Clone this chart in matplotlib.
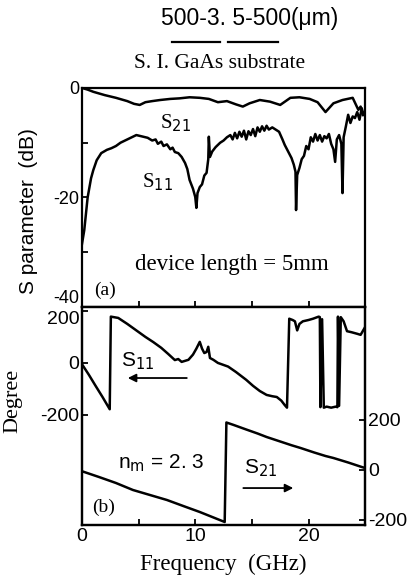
import matplotlib
matplotlib.use("Agg")
import matplotlib.pyplot as plt
from matplotlib.lines import Line2D

# ---------------------------------------------------------------- data
# (a) magnitude, dB
s11_db_f = [0, 0.2, 0.5, 0.8, 1.0, 1.3, 1.7, 2.2, 2.6, 3.0, 3.4, 4.0, 4.5, 4.8,
            5.2, 5.8, 6.2, 6.5, 6.7, 7.0, 7.2, 7.5, 7.8, 8.0, 8.2, 8.5, 8.8,
            9.1, 9.3, 9.5, 9.8, 10.0, 10.1, 10.2, 10.4, 10.6, 10.8, 11.0,
            11.15, 11.2, 11.3, 11.5, 11.8, 12.2, 12.5, 12.8, 13.1, 13.3, 13.5,
            13.7, 13.9, 14.1, 14.3, 14.5, 14.7, 14.9, 15.1, 15.3, 15.5, 15.7,
            15.9, 16.1, 16.3, 16.5, 16.8, 17.1, 17.4, 17.7, 17.9, 18.2, 18.5,
            18.7, 18.85, 18.9, 19.0, 19.2, 19.4, 19.6, 19.8, 20.0, 20.2, 20.4,
            20.6, 20.8, 21.0, 21.2, 21.4, 21.6, 21.8, 22.0, 22.2, 22.35, 22.5,
            22.7, 22.9, 23.0, 23.1, 23.3, 23.5, 23.7, 23.9, 24.1, 24.3, 24.5,
            24.7, 24.85, 25.0]
s11_db = [-28.5, -26.0, -20.0, -16.5, -15.0, -13.2, -11.9, -11.3, -11.0, -10.6,
          -10.0, -9.4, -8.9, -8.6, -8.8, -9.1, -9.6, -9.4, -10.2, -9.8, -10.6,
          -10.3, -11.2, -10.9, -11.7, -11.9, -12.6, -13.7, -14.8, -16.8, -18.4,
          -19.9, -21.9, -19.2, -18.1, -17.6, -16.0, -15.5, -13.0, -8.9, -12.6,
          -11.6, -10.8, -10.0, -9.6, -9.0, -8.6, -9.4, -8.2, -9.2, -8.0, -8.9,
          -7.8, -9.4, -7.9, -8.6, -7.5, -8.8, -7.2, -8.0, -7.0, -7.8, -6.9,
          -7.6, -7.2, -7.6, -8.0, -9.4, -10.4, -11.6, -12.8, -14.0, -15.3,
          -22.3, -15.9, -14.6, -13.0, -12.4, -10.6, -11.2, -9.0, -9.8, -8.4,
          -9.6, -8.6, -9.8, -8.8, -9.2, -8.4, -10.2, -11.2, -13.5, -9.4, -8.6,
          -10.2, -19.2, -9.0, -7.0, -4.9, -6.4, -5.2, -5.5, -4.4, -5.8, -3.7,
          -4.9, -4.4]

s21_db_f = [0, 0.5, 1.0, 2.0, 3.0, 4.0, 4.6, 5.1, 5.6, 6.2, 6.9, 7.8, 8.6, 9.5,
            10.4, 11.2, 12.0, 12.8, 13.6, 14.2, 14.8, 15.7, 16.6, 17.5, 18.4,
            19.2, 20.1, 20.8, 21.5, 22.2, 23.0, 23.9, 24.4, 24.6, 24.8, 25.0]
s21_db = [0.0, -0.3, -0.7, -1.3, -1.8, -2.4, -2.9, -3.1, -2.6, -2.4, -2.2, -2.0,
          -1.9, -1.7, -1.8, -2.0, -2.6, -2.4, -3.0, -3.4, -2.8, -2.2, -2.5,
          -3.1, -1.8, -1.7, -2.0, -2.6, -4.4, -2.8, -2.2, -1.8, -4.0, -3.4,
          -5.0, -4.2]

# (b) phase, degree
s11_ph_f = [0, 0.6, 1.2, 1.8, 2.45, 2.55, 3.2, 4.0, 4.8, 5.6, 6.3, 7.0, 7.6,
            8.2, 8.5, 8.8, 9.1, 9.4, 9.8, 10.1, 10.4, 10.6, 10.8, 11.0, 11.15,
            11.3, 11.6, 12.0, 12.9, 13.6, 14.5, 15.1, 15.7, 16.3, 16.8, 17.2,
            17.6, 17.9, 18.1, 18.3, 18.6, 18.8, 19.0, 19.2, 19.5, 20.0, 20.4,
            20.9, 21.0, 21.05, 21.2, 21.35, 21.6, 22.0, 22.4, 22.55, 22.6,
            22.7, 22.85, 23.1, 23.4, 23.8, 24.3, 24.6, 25.0]
s11_ph = [-5, -45, -88, -130, -178, 178, 173, 150, 125, 100, 80, 58, 35, 11, 15,
          4, 8, 12, 32, 55, 81, 55, 38, 42, 62, 19, 12, 0, -14, -35, -65, -88,
          -108, -123, -128, -131, -145, -162, -172, 170, 165, 160, 125, 150,
          160, 165, 170, 178, 176, -170, 168, -172, -168, -172, -168, -170,
          178, -165, 176, 160, 122, 118, 112, 108, 138]

s21_ph_f = [0, 1.5, 3.0, 4.5, 6.0, 7.5, 9.0, 10.4, 11.5, 12.6, 12.75, 13.4,
            14.5, 15.5, 16.3, 17.5, 18.5, 19.3, 20.5, 21.5, 22.2, 23.5, 24.7,
            25.0]
s21_ph = [-5, -28, -52, -80, -100, -120, -145, -168, -188, -208, 190, 180, 162,
          146, 132, 114, 99, 88, 70, 56, 48, 30, 12, 8]

tick_font = "Liberation Sans"
serif = "Liberation Serif"

fig = plt.figure(figsize=(4.14, 5.81), dpi=100)
ax1 = fig.add_axes([0.198, 0.4716, 0.684, 0.377])
ax2 = fig.add_axes([0.198, 0.0964, 0.684, 0.3752])
ax3 = ax2.twinx()

for ax in (ax1, ax2, ax3):
    for s in ax.spines.values():
        s.set_linewidth(1.6)
    ax.tick_params(direction="in", length=4, width=1.3, labelsize=13, pad=2)

# ---------------------------------------------------------------- (a)
ax1.plot(s21_db_f, s21_db, color="k", lw=1.8)
ax1.plot(s11_db_f, s11_db, color="k", lw=1.8)
ax1.set_xlim(0, 25)
ax1.set_ylim(-40, 0)
ax1.set_xticks([5, 10, 15, 20])
ax1.set_xticklabels([])
ax1.set_yticks([0, -10, -20, -30, -40])
ax1.set_yticklabels(["0", "", "-20", "", "-40"], family=tick_font, fontsize=13)
ax1.yaxis.get_major_ticks()[4].label1.set_va("bottom")
ax1.set_ylabel("S parameter  (dB)", family=tick_font, fontsize=15)
ax1.yaxis.set_label_coords(-0.155, 0.44)

ax1.text(8.3, -6.4, "S$_{21}$", family=serif, fontsize=15, ha="center", va="center")
ax1.text(6.7, -17.2, "S$_{11}$", family=serif, fontsize=15, ha="center", va="center")
ax1.text(13.2, -32.3, "device length = 5mm", family=serif, fontsize=16.5,
         ha="center", va="center")
ax1.text(2.0, -36.9, "(a)", family=serif, fontsize=14, ha="center", va="center")

# ---------------------------------------------------------------- (b)
ax2.plot(s11_ph_f, s11_ph, color="k", lw=1.8)
ax3.plot(s21_ph_f, s21_ph, color="k", lw=1.8)
ax2.set_xlim(0, 25)
ax2.set_ylim(-623, 215)
ax3.set_ylim(-220, 652)
ax2.set_xticks([0, 5, 10, 15, 20])
ax2.set_xticklabels(["0", "", "10", "", "20"], family=tick_font, fontsize=14)
ax2.set_yticks([200, 0, -200])
ax2.set_yticklabels(["200", "0", "-200"], family=tick_font, fontsize=14)
ax2.yaxis.get_major_ticks()[0].label1.set_va("top")
ax3.set_yticks([200, 0, -200])
ax3.set_yticklabels(["200", "0", "-200"], family=tick_font, fontsize=14)
ax2.set_ylabel("Degree", family=serif, fontsize=16)
ax2.yaxis.set_label_coords(-0.21, 0.57)
ax2.set_xlabel("Frequency  (GHz)", family=serif, fontsize=16.5)
ax2.xaxis.set_label_coords(0.5, -0.13)

ax2.text(4.9, 8, "S$_{11}$", family=tick_font, fontsize=15, ha="center", va="center")
ax2.annotate("", xy=(3.8, -58), xytext=(9.5, -58),
             arrowprops=dict(arrowstyle="-|>", color="k", lw=1.3,
                             mutation_scale=12))
ax2.text(15.8, -405, "S$_{21}$", family=tick_font, fontsize=15, ha="center", va="center")
ax2.annotate("", xy=(18.9, -481), xytext=(14.0, -481),
             arrowprops=dict(arrowstyle="-|>", color="k", lw=1.3,
                             mutation_scale=12))
ax2.text(7.0, -385, "n$_{\\rm m}$ = 2. 3", family=tick_font, fontsize=15,
         ha="center", va="center")
ax2.text(1.9, -554, "(b)", family=serif, fontsize=14, ha="center", va="center")

# ---------------------------------------------------------------- heading
fig.text(250 / 414, 1 - 18 / 581, "500-3. 5-500(\u03bcm)", family=tick_font,
         fontsize=16.5, ha="center", va="center")
for x0, x1 in ((172, 220), (228, 278)):
    fig.add_artist(Line2D([x0 / 414, x1 / 414], [1 - 42 / 581, 1 - 42 / 581],
                          color="k", lw=1.6, transform=fig.transFigure))
fig.text(220 / 414, 1 - 63 / 581, "S. I. GaAs substrate", family=serif,
         fontsize=15.5, ha="center", va="center")

fig.savefig("out.png", dpi=100)
